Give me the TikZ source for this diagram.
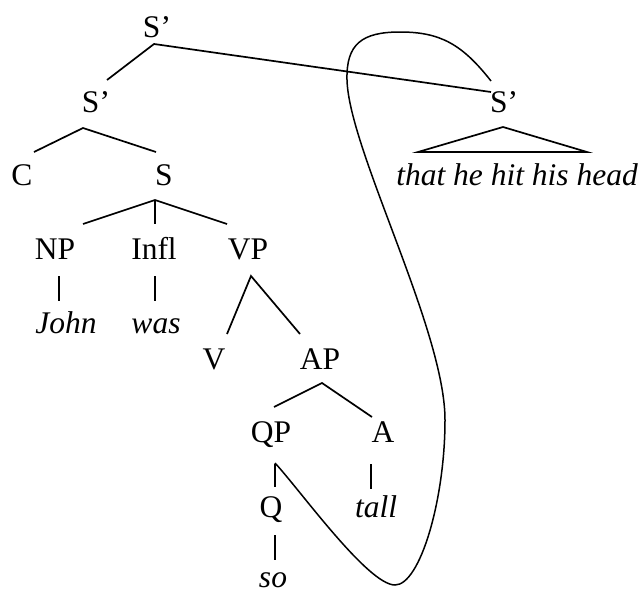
\documentclass[tikz,border=0pt]{standalone}
\usepackage{fontspec}
\setmainfont{Liberation Serif}
\usetikzlibrary{calc}
\begin{document}
\begin{tikzpicture}[x=1pt,y=-1pt,
  lab/.style={anchor=base,inner sep=0pt,font=\fontsize{31.5}{36}\selectfont},
  wd/.style={lab,font=\fontsize{31.5}{36}\selectfont\itshape},
  br/.style={line width=1.7pt,line cap=butt}]
\useasboundingbox (0,0) rectangle (642,589);
% nodes
\node[lab] (t) at (157,37) {S’};
\node[lab] (s1) at (96,112) {S’};
\node[lab] (s2) at (504,112) {S’};
\node[lab] (c) at (22,185) {C};
\node[lab] (s) at (164,185) {S};
\node[wd] (th) at (517,185) {that he hit his head};
\node[lab] (np) at (55,259) {NP};
\node[lab] (infl) at (154,259) {Infl};
\node[lab] (vp) at (248,259) {VP};
\node[wd] (john) at (66,333) {John};
\node[wd] (was) at (156,333) {was};
\node[lab] (v) at (214,369) {V};
\node[lab] (ap) at (320,369) {AP};
\node[lab] (qp) at (271,442) {QP};
\node[lab] (a) at (383,442) {A};
\node[lab] (q) at (271,517) {Q};
\node[wd] (tall) at (376,517) {tall};
\node[wd] (so) at (273,587) {so};
% branches
\draw[br] ($(s1.base)+(11,-32)$) -- ($(t.base)+(-3,7)$) -- ($(s2.base)+(-13,-20)$);
\draw[br] ($(c.base)+(12,-33)$) -- ($(s1.base)+(-13,16)$) -- ($(s.base)+(-8,-33)$);
\draw[br] ($(th.base)+(-99,-33)$) -- ($(s2.base)+(-1,15)$) -- ($(th.base)+(70,-33)$) -- cycle;
\draw[br] ($(np.base)+(28,-35)$) -- ($(s.base)+(-9,15)$) -- ($(vp.base)+(-21,-35)$);
\draw[br] ($(s.base)+(-9,15)$) -- ($(infl.base)+(1,-35)$);
\draw[br] ($(np.base)+(4,17)$) -- ($(john.base)+(-7,-32)$);
\draw[br] ($(infl.base)+(1,17)$) -- ($(was.base)+(-1,-32)$);
\draw[br] ($(v.base)+(13,-35)$) -- ($(vp.base)+(3,17)$) -- ($(ap.base)+(-20,-35)$);
\draw[br] ($(qp.base)+(3,-35)$) -- ($(ap.base)+(2,14)$) -- ($(a.base)+(-11,-25)$);
\draw[br] ($(qp.base)+(4,22)$) -- ($(q.base)+(4,-30)$);
\draw[br] ($(a.base)+(-12,22)$) -- ($(tall.base)+(-5,-28)$);
\draw[br] ($(q.base)+(4,18)$) -- ($(so.base)+(2,-27)$);
% loop from S' to QP
\draw[br,line width=1.5pt] ($(s2.base)+(-13,-31)$)
  .. controls (462,44) and (440,32) .. (400,32)
  .. controls (362,32) and (346,44) .. (347,80)
  .. controls (349,150) and (445,330) .. (445,420)
  .. controls (445,500) and (420,585) .. (395,585)
  .. controls (368,585) and (300,490) .. ($(qp.base)+(4,21)$);
\end{tikzpicture}
\end{document}
